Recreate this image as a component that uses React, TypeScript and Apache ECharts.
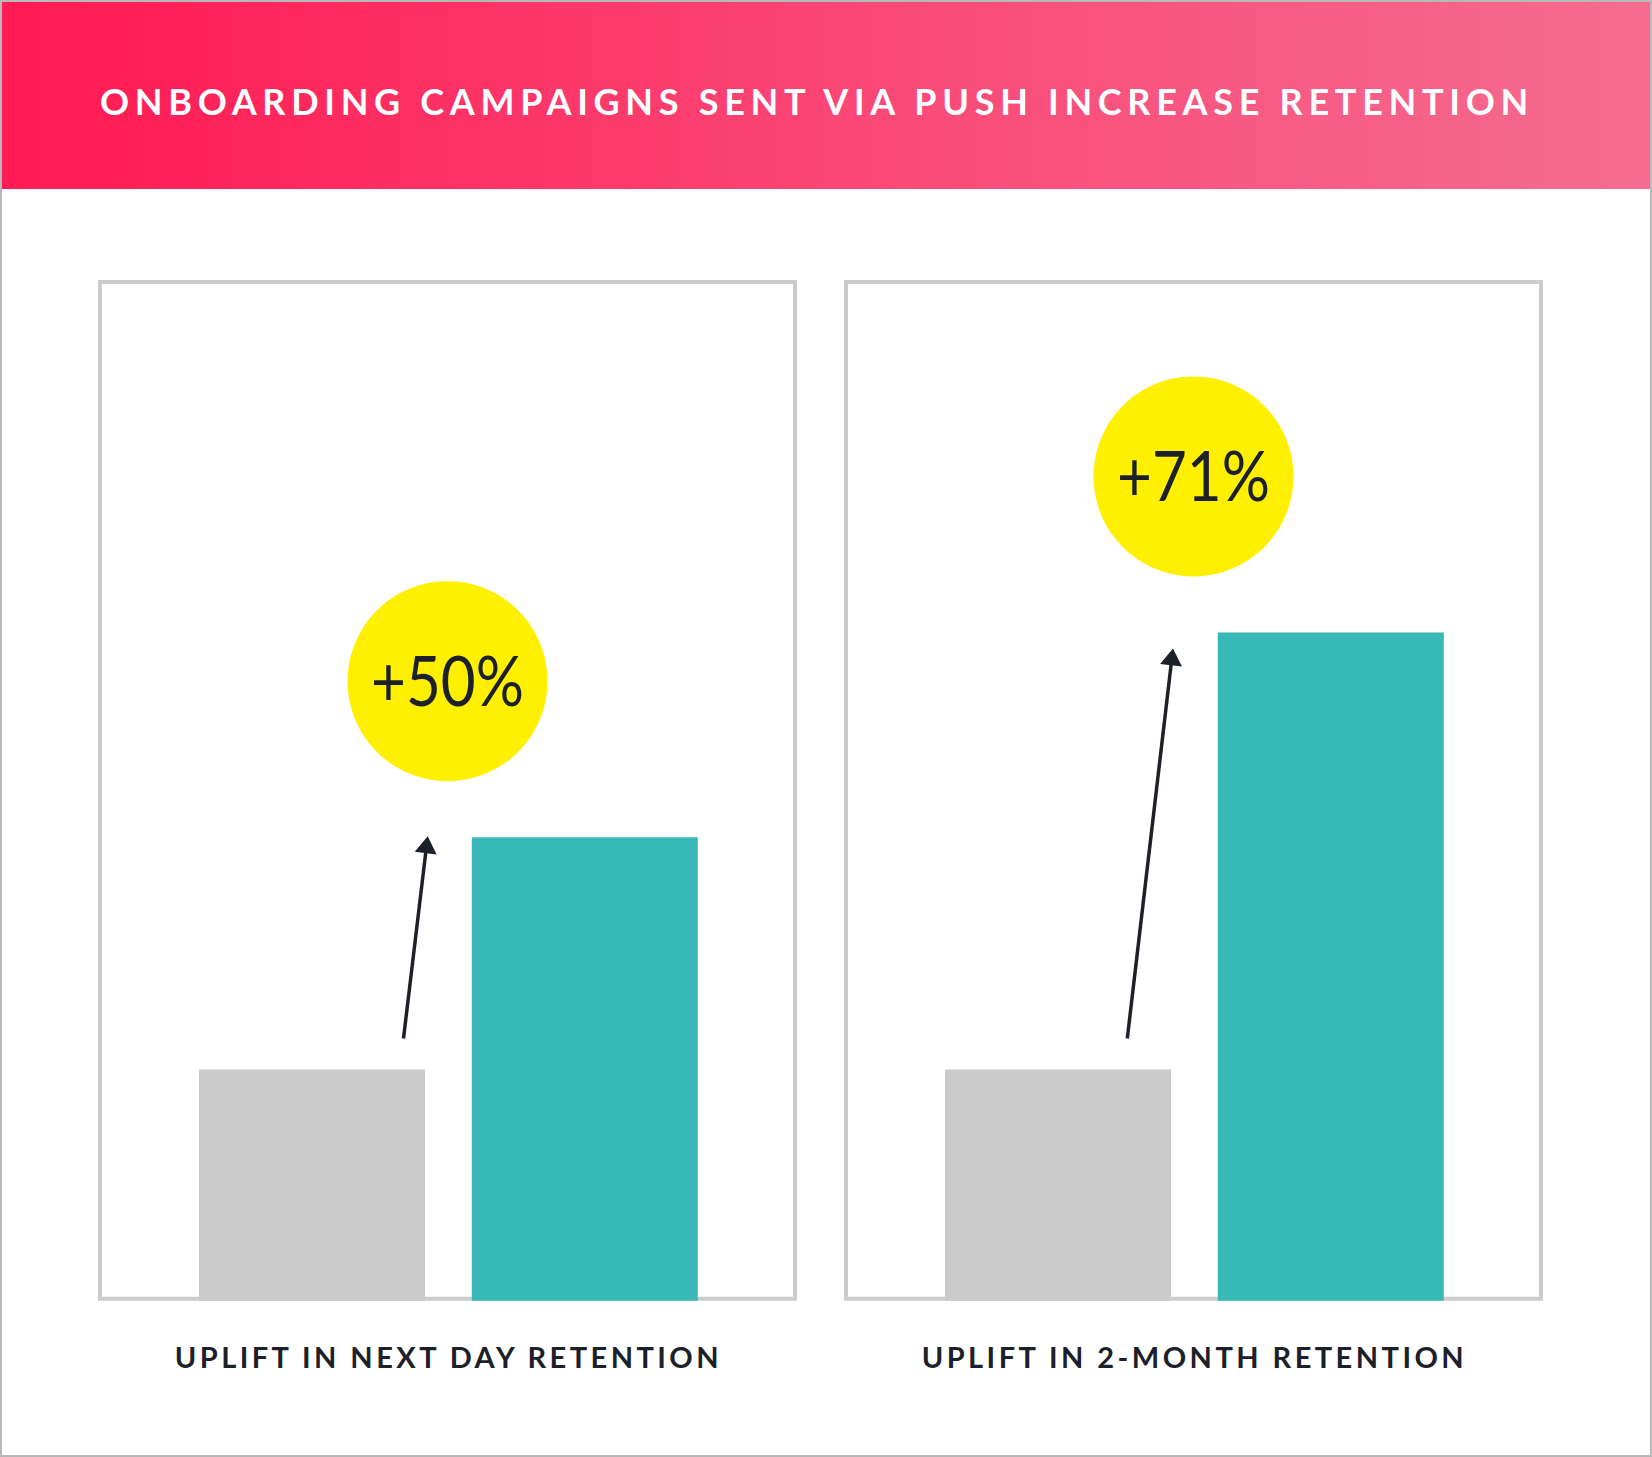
import React, { useEffect, useRef } from 'react';
import * as echarts from 'echarts';

// ---- data ----
const TITLE = 'ONBOARDING CAMPAIGNS SENT VIA PUSH INCREASE RETENTION';
const panelNames = ['UPLIFT IN NEXT DAY RETENTION', 'UPLIFT IN 2-MONTH RETENTION'];
const categories = ['Without push', 'With push'];
const nextDayValues = [22.7, 45.5];
const twoMonthValues = [22.7, 65.6];
const upliftLabels = ['+50%', '+71%'];
const barColors = ['#cbcbcb', '#38b9b7'];

const panelSeries = [nextDayValues, twoMonthValues];

// ---- layout ----
const W = 1652;
const H = 1457;
const PANEL_TOP = 282;
const PANEL_BOTTOM = 1298.7;
const PANEL_W = 695;
const panelLeft = [100, 846];
const gridLeft = [175.6, 921.6];
const GRID_W = 545.6;
const GRID_TOP = 282;
const GRID_H = 1018.7;
const arrowTailDx = [91.5, 69.3];
const arrowTipDx = [115.7, 115];
const arrowTailDy = [-31, -31];
const arrowTipDy = [-1, 16];

const DARK = '#1c2028';

function arrow(tail: number[], tip: number[]) {
  const dx = tip[0] - tail[0];
  const dy = tip[1] - tail[1];
  const len = Math.sqrt(dx * dx + dy * dy);
  const ux = dx / len;
  const uy = dy / len;
  const headLen = 17;
  const headHalf = 11;
  const bx = tip[0] - ux * headLen;
  const by = tip[1] - uy * headLen;
  const px = -uy;
  const py = ux;
  return [
    {
      type: 'line',
      z: 20,
      shape: { x1: tail[0], y1: tail[1], x2: bx + ux * 2, y2: by + uy * 2 },
      style: { stroke: DARK, lineWidth: 3.5 },
    },
    {
      type: 'polygon',
      z: 20,
      shape: {
        points: [
          [tip[0], tip[1]],
          [bx + px * headHalf, by + py * headHalf],
          [bx - px * headHalf, by - py * headHalf],
        ],
      },
      style: { fill: DARK },
    },
  ];
}

export default function App() {
  const ref = useRef<HTMLDivElement>(null);

  useEffect(() => {
    if (!ref.current) return;
    const chart = echarts.init(ref.current, undefined, { renderer: 'svg', width: W, height: H });

    const baseGraphics: any[] = [
      {
        type: 'rect',
        z: 0,
        shape: { x: 1, y: 1, width: W - 2, height: H - 2 },
        style: { fill: '#ffffff', stroke: '#b8b8b8', lineWidth: 2 },
      },
      {
        type: 'rect',
        z: 1,
        shape: { x: 2, y: 2, width: W - 4, height: 187 },
        style: {
          fill: {
            type: 'linear',
            x: 0,
            y: 0,
            x2: 1,
            y2: 0,
            colorStops: [
              { offset: 0, color: '#ff1c55' },
              { offset: 0.08, color: '#ff1f57' },
              { offset: 0.5, color: '#fa4675' },
              { offset: 1, color: '#f56c8f' },
            ],
          },
        },
      },
      ...panelLeft.map((x) => ({
        type: 'rect',
        z: 1,
        shape: { x, y: PANEL_TOP, width: PANEL_W, height: PANEL_BOTTOM - PANEL_TOP },
        style: { fill: 'none', stroke: '#cccccc', lineWidth: 4 },
      })),
    ];

    const option: any = {
      animation: false,
      backgroundColor: '#ffffff',
      title: {
        text: TITLE,
        left: 100,
        top: 83,
        padding: 0,
        textStyle: { color: '#ffffff', fontFamily: 'Lato', fontSize: 36, fontWeight: 'bold' },
      },
      grid: gridLeft.map((left) => ({ left, top: GRID_TOP, width: GRID_W, height: GRID_H })),
      xAxis: panelNames.map((name, i) => ({
        type: 'category',
        gridIndex: i,
        data: categories,
        axisLine: { show: false },
        axisTick: { show: false },
        axisLabel: { show: false },
        splitLine: { show: false },
        name,
        nameLocation: 'middle',
        nameGap: 41,
        nameTextStyle: { color: DARK, fontFamily: 'Lato', fontSize: 29, fontWeight: 'bold' },
      })),
      yAxis: panelNames.map((_, i) => ({
        type: 'value',
        gridIndex: i,
        min: 0,
        max: 100,
        show: false,
        splitLine: { show: false },
      })),
      series: panelSeries.map((vals, i) => ({
        type: 'bar',
        xAxisIndex: i,
        yAxisIndex: i,
        barWidth: 226,
        z: 5,
        silent: true,
        data: vals.map((v, j) => ({ value: v, itemStyle: { color: barColors[j] } })),
      })),
      graphic: baseGraphics,
    };

    chart.setOption(option);

    const extra: any[] = [];
    panelSeries.forEach((vals, i) => {
      const grey = chart.convertToPixel({ gridIndex: i }, [categories[0], vals[0]]) as number[];
      const teal = chart.convertToPixel({ gridIndex: i }, [categories[1], vals[1]]) as number[];
      const cx = panelLeft[i] + PANEL_W / 2;
      const cy = teal[1] - 156;
      extra.push(...arrow(
        [grey[0] + arrowTailDx[i], grey[1] + arrowTailDy[i]],
        [grey[0] + arrowTipDx[i], teal[1] + arrowTipDy[i]],
      ));
      extra.push({
        type: 'circle',
        z: 20,
        shape: { cx, cy, r: 100 },
        style: { fill: '#ffef00' },
      });
      extra.push({
        type: 'text',
        z: 21,
        x: cx,
        y: cy - 2,
        scaleX: 0.86,
        style: {
          text: upliftLabels[i],
          x: 0,
          y: 0,
          fill: DARK,
          font: 'normal 70px Lato',
          textAlign: 'center',
          textVerticalAlign: 'middle',
        },
      });
    });

    chart.setOption({ graphic: [...baseGraphics, ...extra] }, { replaceMerge: ['graphic'] });

    return () => chart.dispose();
  }, []);

  return (
    <>
      <style>{`
        .rk-chart text[style*="36px"] { letter-spacing: 5.7px; }
        .rk-chart text[style*="29px"] { letter-spacing: 3.45px; }
      `}</style>
      <div
        ref={ref}
        className="rk-chart"
        style={{ position: 'absolute', left: 0, top: 0, width: W, height: H }}
      />
    </>
  );
}
